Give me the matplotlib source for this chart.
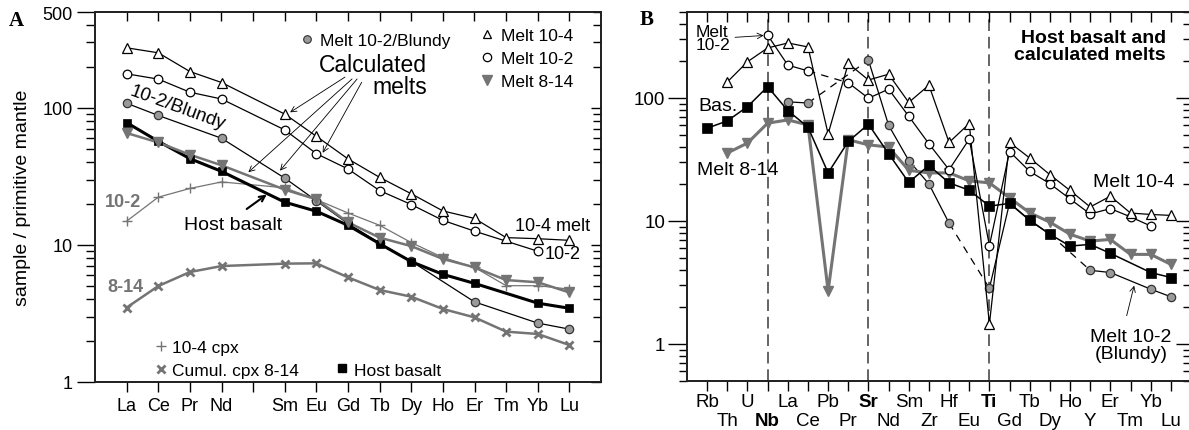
import matplotlib
matplotlib.use('Agg')
import matplotlib.pyplot as plt
import numpy as np
from matplotlib.ticker import LogLocator, NullFormatter, FixedLocator
from matplotlib.lines import Line2D

plt.rcParams['font.family'] = ['Liberation Sans', 'DejaVu Sans']

N = None
# ---------------- Panel A (REE) ----------------
ree = ['La', 'Ce', 'Pr', 'Nd', 'Pm', 'Sm', 'Eu', 'Gd', 'Tb', 'Dy', 'Ho', 'Er', 'Tm', 'Yb', 'Lu']
ree_labels = ['La', 'Ce', 'Pr', 'Nd', '', 'Sm', 'Eu', 'Gd', 'Tb', 'Dy', 'Ho', 'Er', 'Tm', 'Yb', 'Lu']
a_melt_10_4 = [274, 252, 184, 153, N, 90, 62, 42.4, 31.1, 23.6, 17.7, 15.6, 11.3, 11.1, 10.8]
a_melt_10_2 = [177, 162, 130, 116, N, 69, 46.3, 35.8, 24.9, 19.7, 15.1, 12.6, N, 9.0, N]
a_blundy = [108, 88, N, 60, N, 30.7, 21.0, 14.3, 10.3, 7.6, N, 3.84, N, 2.69, 2.43]
a_host = [78, 57, 42.6, 34.4, N, 20.5, 17.6, 13.9, 10.2, 7.55, 6.1, 5.24, N, 3.76, 3.45]
a_melt_8_14 = [65.5, 55.9, 45.5, 38.1, N, 25.3, 21.5, 14.6, 11.3, 9.8, 7.9, 6.86, 5.54, 5.34, 4.5]
a_cpx_10_4 = [14.9, 22.3, 25.8, 28.8, N, 26.1, 21.4, 17.1, 13.9, 10.4, 8.1, 6.86, 5.04, 5.04, 4.76]
a_cpx_8_14 = [3.49, 5.01, 6.34, 7.01, N, 7.30, 7.34, 5.8, 4.69, 4.19, 3.41, 2.96, 2.33, 2.24, 1.86]

# ---------------- Panel B (trace elements) ----------------
te = ['Rb', 'Th', 'U', 'Nb', 'La', 'Ce', 'Pb', 'Pr', 'Sr', 'Nd', 'Sm', 'Zr', 'Hf', 'Eu',
      'Ti', 'Gd', 'Tb', 'Dy', 'Ho', 'Y', 'Er', 'Tm', 'Yb', 'Lu']
te_bold = ['Nb', 'Sr', 'Ti']
b_melt_10_4 = [N, 135, 197, 255, 280, 260, 51, 191, 140, 156, 92, 127, 43.5, 62, 1.45,
               43.5, 32.5, 23.8, 17.7, 13.0, 15.9, 11.6, 11.3, 11.1]
b_melt_10_2 = [N, N, N, 324, 185, 166, N, 133, 99.5, 118, 71, 42.4, 26.1, 46.3, 6.3,
               36.7, 25.3, 20.1, 15.1, 11.4, 12.6, 10.8, 9.1, N]
b_blundy = [N, N, N, N, 93, 91, N, N, 203, 60, 31, 20, 9.6, N, 2.84,
            14.0, 10.1, 7.8, N, 3.97, 3.81, N, 2.79, 2.42]
b_host = [56.8, 65.1, 85, 123.5, 79, 58, 24.6, 44.3, 61.2, 35.2, 20.6, 28.3, 20.4, 17.8, 13.2,
          13.9, 10.15, 7.8, 6.25, 6.45, 5.46, N, 3.81, 3.47]
b_melt_8_14 = [N, 35.7, 43, 62.4, 66.3, 60.4, 2.7, 45.7, 41.6, 39.9, 25.8, 24.6, 24.6, 21.2, 20.4,
               15.4, 11.65, 9.78, 7.8, 6.86, 7.08, 5.35, 5.35, 4.44]
b_blundy_dashed_from = ['Ce', 'Hf', 'Dy']
b_melt_10_2_dashed_from = ['Ce']

GRAY = '#747474'
LGRAY = '#9a9a9a'


def draw_series(ax, cats, vals, color, lw, marker, ms, mfc, mec, mew=1.0, z=2,
                dashed_from=(), lcolor=None):
    lcolor = lcolor or color
    idx = [i for i, v in enumerate(vals) if v is not None]
    segs = []
    cur_x, cur_y = [idx[0]], [vals[idx[0]]]
    for k in range(1, len(idx)):
        i0, i1 = idx[k - 1], idx[k]
        if cats[i0] in dashed_from:
            segs.append((cur_x, cur_y, 'solid'))
            segs.append(([i0, i1], [vals[i0], vals[i1]], 'dash'))
            cur_x, cur_y = [i1], [vals[i1]]
        else:
            cur_x.append(i1)
            cur_y.append(vals[i1])
    segs.append((cur_x, cur_y, 'solid'))
    for xs, ys, st in segs:
        if len(xs) < 2:
            continue
        if st == 'solid':
            ax.plot(xs, ys, color=lcolor, lw=lw, zorder=z)
        else:
            ax.plot(xs, ys, color=lcolor, lw=lw, zorder=z, linestyle=(0, (6, 5)))
    ax.plot(idx, [vals[i] for i in idx], linestyle='none', marker=marker, ms=ms,
            mfc=mfc, mec=mec, mew=mew, zorder=z + 0.5)


W, H = 1189, 431
fig = plt.figure(figsize=(W / 100, H / 100), dpi=100)

# ======================= Panel A =======================
axA = fig.add_axes([95 / W, 48 / H, 506 / W, 370 / H])
axA.set_yscale('log')
axA.set_xlim(-1, 15)
axA.set_ylim(1, 500)

draw_series(axA, ree, a_cpx_8_14, GRAY, 1.8, 'x', 6, GRAY, GRAY, mew=2.0, z=2)
draw_series(axA, ree, a_cpx_10_4, GRAY, 0.9, '+', 7, GRAY, GRAY, mew=1.0, z=2.2)
draw_series(axA, ree, a_blundy, 'black', 0.9, 'o', 6, LGRAY, '#333333', mew=0.9, z=2.4)
draw_series(axA, ree, a_host, 'black', 2.2, 's', 6.2, 'black', 'black', mew=0.5, z=2.6)
draw_series(axA, ree, a_melt_8_14, GRAY, 1.8, 'v', 7, GRAY, GRAY, mew=1.0, z=2.8)
draw_series(axA, ree, a_melt_10_2, 'black', 0.9, 'o', 6.2, 'white', 'black', mew=0.9, z=3)
draw_series(axA, ree, a_melt_10_4, 'black', 0.9, '^', 7, 'white', 'black', mew=0.9, z=3.2)

axA.set_xticks(range(len(ree)), labels=ree_labels)
axA.set_yticks([1, 10, 100, 500], labels=['1', '10', '100', '500'])
axA.yaxis.set_minor_locator(LogLocator(base=10, subs=np.arange(2, 10)))
axA.yaxis.set_minor_formatter(NullFormatter())
axA.tick_params(axis='y', which='major', direction='out', length=13, width=1, labelsize=13, pad=3)
axA.tick_params(axis='y', which='minor', direction='out', length=6.5, width=1)
axA.tick_params(axis='x', which='major', direction='out', length=7.5, width=1, labelsize=13, pad=3)
axA.tick_params(axis='x', which='minor', bottom=False)
axA.set_ylabel('sample / primitive mantle', fontsize=14, labelpad=8)

tA = axA.twiny()
tA.set_xlim(-1, 15)
tA.set_xticks(range(len(ree)))
tA.tick_params(axis='x', direction='in', length=6.5, width=1, labeltop=False, top=True)
rA = axA.twinx()
rA.set_yscale('log')
rA.set_ylim(1, 500)
rA.yaxis.set_major_locator(FixedLocator([1, 10, 100]))
rA.yaxis.set_minor_locator(LogLocator(base=10, subs=np.arange(2, 10)))
rA.yaxis.set_minor_formatter(NullFormatter())
rA.tick_params(axis='y', which='major', direction='in', length=7, width=1, labelright=False)
rA.tick_params(axis='y', which='minor', direction='in', length=5.5, width=1)

for a in (axA, tA, rA):
    for s in a.spines.values():
        s.set_linewidth(1.1)
        s.set_color('#222222')

# legends in A
leg_kw = dict(frameon=False, fontsize=12.5, handlelength=0.8, borderpad=0, borderaxespad=0,
              loc='upper left', labelspacing=0.45)
l1 = axA.legend(handles=[Line2D([], [], ls='none', marker='o', ms=5.5, mfc=LGRAY, mec='#333333', mew=0.8)],
                labels=['Melt 10-2/Blundy'], bbox_to_anchor=(0.405, 0.944), handletextpad=0.35, **leg_kw)
axA.add_artist(l1)
l2 = axA.legend(handles=[Line2D([], [], ls='none', marker='^', ms=6, mfc='white', mec='black', mew=0.9),
                         Line2D([], [], ls='none', marker='o', ms=6, mfc='white', mec='black', mew=0.9),
                         Line2D([], [], ls='none', marker='v', ms=7, mfc=GRAY, mec=GRAY)],
                labels=['Melt 10-4', 'Melt 10-2', 'Melt 8-14'], bbox_to_anchor=(0.760, 0.956),
                handletextpad=0.45, **leg_kw)
axA.add_artist(l2)
l3 = axA.legend(handles=[Line2D([], [], ls='none', marker='+', ms=7, mfc=GRAY, mec=GRAY, mew=1.0),
                         Line2D([], [], ls='none', marker='x', ms=5.5, mfc=GRAY, mec=GRAY, mew=2.0)],
                labels=['10-4 cpx', 'Cumul. cpx 8-14'], bbox_to_anchor=(0.116, 0.114),
                handletextpad=0.25, **leg_kw)
axA.add_artist(l3)
# last legend stays as the axes' own legend (not added twice)
axA.legend(handles=[Line2D([], [], ls='none', marker='s', ms=6, mfc='black', mec='black')],
           labels=['Host basalt'], bbox_to_anchor=(0.474, 0.053), handletextpad=0.3, **leg_kw)

# annotations in A
axA.text(0.656, 0.828, 'Calculated\nmelts', transform=axA.transAxes, fontsize=16.5,
         ha='right', va='center', linespacing=0.95, multialignment='right')
arrow_thin = dict(arrowstyle='->', lw=0.6, color='black', shrinkA=0, shrinkB=0)
for (tx, ty), (ex, ey) in [((0.494, 0.824), (5.17, 92.7)),
                           ((0.508, 0.819), (3.85, 33.9)),
                           ((0.518, 0.819), (4.85, 34.8)),
                           ((0.527, 0.81), (6.2, 47.0))]:
    axA.annotate('', xy=(ex, ey), xytext=(tx, ty), textcoords='axes fraction', arrowprops=arrow_thin)
axA.text(0.164, 0.743, '10-2/Blundy', transform=axA.transAxes, fontsize=13.5, rotation=-20,
         ha='center', va='center', rotation_mode='anchor')
axA.text(0.0553, 0.4865, '10-2', transform=axA.transAxes, fontsize=13, fontweight='bold',
         color=GRAY, ha='center', va='center')
axA.text(0.0593, 0.2568, '8-14', transform=axA.transAxes, fontsize=13, fontweight='bold',
         color=GRAY, ha='center', va='center')
axA.text(0.272, 0.427, 'Host basalt', transform=axA.transAxes, fontsize=14, ha='center', va='center')
axA.annotate('', xy=(4.43, 23.3), xytext=(0.2998, 0.4676), textcoords='axes fraction',
             arrowprops=dict(arrowstyle='->', lw=1.5, color='black', shrinkA=0, shrinkB=0))
axA.text(0.905, 0.424, '10-4 melt', transform=axA.transAxes, fontsize=13, ha='center', va='center')
axA.text(0.925, 0.346, '10-2', transform=axA.transAxes, fontsize=13, ha='center', va='center')

fig.text(16.7 / W, 1 - 21 / H, 'A', family=['Liberation Serif'], fontweight='bold', fontsize=15,
         ha='center', va='center')

# ======================= Panel B =======================
axB = fig.add_axes([687 / W, 49 / H, 504 / W, 369 / H])
axB.set_yscale('log')
axB.set_xlim(-1, 24)
axB.set_ylim(0.5, 500)

for el in te_bold:
    axB.axvline(te.index(el), color='#4a4a4a', lw=1.2, linestyle=(0, (7, 3.5)), zorder=1)

draw_series(axB, te, b_blundy, 'black', 0.9, 'o', 6, LGRAY, '#333333', mew=0.9, z=2,
            dashed_from=b_blundy_dashed_from)
draw_series(axB, te, b_melt_8_14, GRAY, 2.2, 'v', 7, GRAY, GRAY, mew=1.0, z=2.3)
draw_series(axB, te, b_host, 'black', 1.1, 's', 6.5, 'black', 'black', mew=0.5, z=2.6)
draw_series(axB, te, b_melt_10_2, 'black', 0.9, 'o', 6.2, 'white', 'black', mew=0.9, z=3,
            dashed_from=b_melt_10_2_dashed_from)
draw_series(axB, te, b_melt_10_4, 'black', 0.9, '^', 7, 'white', 'black', mew=0.9, z=3.2)

even = list(range(0, len(te), 2))
odd = list(range(1, len(te), 2))
axB.set_xticks(even, labels=[te[i] for i in even])
axB.set_xticks(odd, labels=[te[i] for i in odd], minor=True)
for lab in axB.get_xticklabels(minor=False) + axB.get_xticklabels(minor=True):
    if lab.get_text() in te_bold:
        lab.set_fontweight('bold')
axB.tick_params(axis='x', which='major', direction='out', length=7.5, width=1, labelsize=13.5, pad=1.5)
axB.tick_params(axis='x', which='minor', direction='out', length=7.5, width=1, labelsize=13.5, pad=15)
axB.set_yticks([1, 10, 100], labels=['1', '10', '100'])
axB.yaxis.set_minor_locator(LogLocator(base=10, subs=np.arange(2, 10)))
axB.yaxis.set_minor_formatter(NullFormatter())
axB.tick_params(axis='y', which='major', direction='out', length=13.5, width=1, labelsize=13.5, pad=2)
axB.tick_params(axis='y', which='minor', direction='out', length=5.5, width=1)

tB = axB.twiny()
tB.set_xlim(-1, 24)
tB.set_xticks(range(len(te)))
tB.tick_params(axis='x', direction='in', length=7, width=1, labeltop=False, top=True)
rB = axB.twinx()
rB.set_yscale('log')
rB.set_ylim(0.5, 500)
rB.yaxis.set_major_locator(FixedLocator([1, 10, 100]))
rB.yaxis.set_minor_locator(LogLocator(base=10, subs=np.arange(2, 10)))
rB.yaxis.set_minor_formatter(NullFormatter())
rB.tick_params(axis='y', which='major', direction='in', length=11, width=1, labelright=False)
rB.tick_params(axis='y', which='minor', direction='in', length=5.5, width=1)
for a in (axB, tB, rB):
    for s in a.spines.values():
        s.set_linewidth(1.1)
        s.set_color('#222222')

axB.text(0.0179, 0.9295, 'Melt\n10-2', transform=axB.transAxes, fontsize=12.5, ha='left',
         va='center', linespacing=0.85)
axB.annotate('', xy=(2.8, 322), xytext=(0.0952, 0.9314), textcoords='axes fraction',
             arrowprops=dict(arrowstyle='->', lw=0.6, color='black', shrinkA=0, shrinkB=0))
axB.text(0.0218, 0.746, 'Bas.', transform=axB.transAxes, fontsize=14, ha='left', va='center')
axB.text(0.0192, 0.5726, 'Melt 8-14', transform=axB.transAxes, fontsize=14, ha='left', va='center')
axB.text(0.9498, 0.9079, 'Host basalt and\ncalculated melts', transform=axB.transAxes,
         fontsize=14, fontweight='bold', ha='right', va='center', multialignment='right',
         linespacing=0.95)
axB.text(0.8056, 0.5407, 'Melt 10-4', transform=axB.transAxes, fontsize=14, ha='left', va='center')
axB.text(0.881, 0.0976, 'Melt 10-2\n(Blundy)', transform=axB.transAxes, fontsize=14,
         ha='center', va='center', multialignment='center', linespacing=0.95)
axB.annotate('', xy=(21.18, 2.98), xytext=(0.8724, 0.177), textcoords='axes fraction',
             arrowprops=dict(arrowstyle='->', lw=0.6, color='black', shrinkA=0, shrinkB=0))

fig.text(646.7 / W, 1 - 20 / H, 'B', family=['Liberation Serif'], fontweight='bold', fontsize=15,
         ha='center', va='center')

fig.savefig('out.png', dpi=100)
